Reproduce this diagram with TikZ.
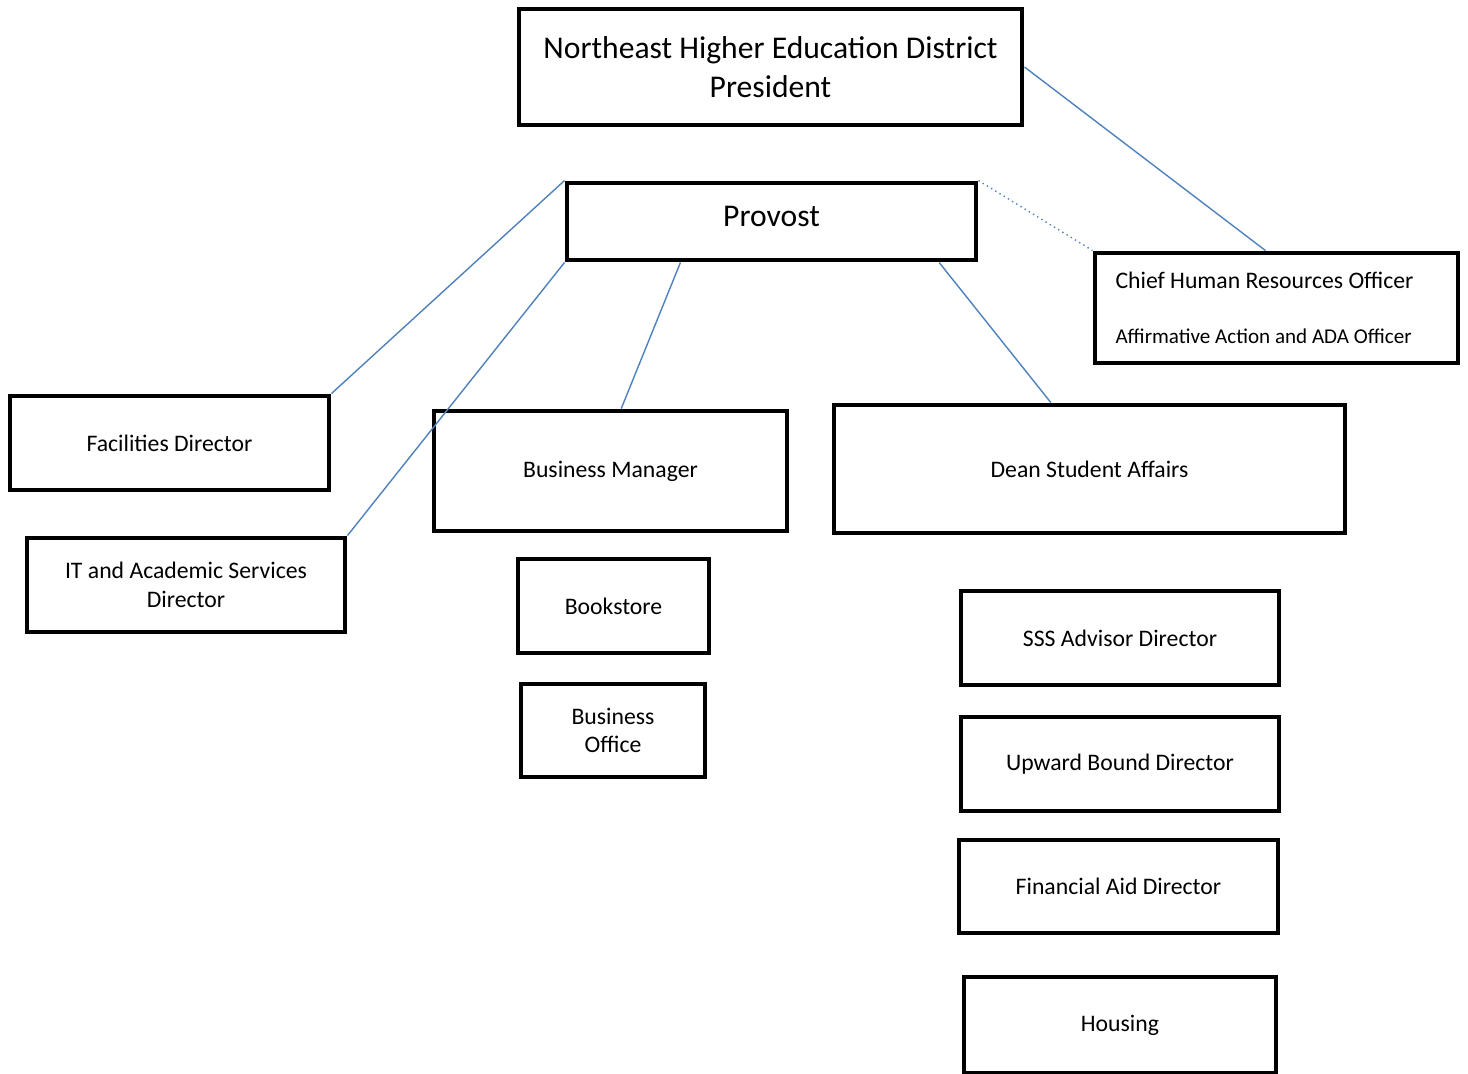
\documentclass[tikz,border=0pt]{standalone}
\usepackage{fontspec}
\setmainfont{Carlito}
\usetikzlibrary{calc}
\definecolor{linkblue}{RGB}{79,129,189}

\begin{document}
\begin{tikzpicture}[x=0.02cm, y=-0.02cm]
  \tikzstyle{box}=[rectangle, draw, line width=2.8pt, inner sep=0pt, align=center, font=\fontsize{13.5}{16.4}\selectfont]
  \tikzset{wh/.style 2 args={minimum width=#1*0.02cm, minimum height=#2*0.02cm}}
  \tikzstyle{link}=[draw=linkblue, line width=0.8pt]

  \useasboundingbox (0,0) rectangle (1468,1073);
  \clip (0,0) rectangle (1468,1073);

  \node[box, wh={503}{116}, font=\fontsize{18}{22}\selectfont] (pres) at (770.5, 67) {Northeast Higher Education District\\President};
  \node[box, wh={409}{77}, font=\fontsize{18}{22}\selectfont] (prov) at (771.5, 221.5) {\raisebox{0.19cm}{Provost}};
  \node[box, wh={363}{110}, align=left] (hr) at (1276.5, 308) {Chief Human Resources Officer\kern0.48cm\mbox{}\\[0.52cm]{\fontsize{12}{14}\selectfont Affirmative Action and ADA Officer}};

  \node[box, wh={319}{94}] (fac) at (169.5, 443) {Facilities Director};
  \node[box, wh={318}{94}] (it) at (186, 585) {IT and Academic Services\\Director};
  \node[box, wh={353}{120}] (bm) at (610.5, 471) {Business Manager};
  \node[box, wh={511}{128}] (dean) at (1089.5, 469) {Dean Student Affairs};

  \node[box, wh={191}{94}] (book) at (613.5, 606) {Bookstore};
  \node[box, wh={184}{93}] (bo) at (613, 730.5) {Business\\Office};

  \node[box, wh={318}{94}] (sss) at (1120, 638) {SSS Advisor Director};
  \node[box, wh={318}{94}] (ub) at (1120, 764) {Upward Bound Director};
  \node[box, wh={319}{93}] (fa) at (1118.5, 886.5) {Financial Aid Director};
  \node[box, wh={312}{96}] (house) at (1120, 1025) {Housing};

  % connectors
  \draw[link] (pres.east) -- ($(hr.north west)!0.47!(hr.north east)$);
  \draw[link] (prov.north west) -- (fac.north east);
  \draw[link] (prov.south west) -- (it.north east);
  \draw[link] ($(prov.south west)!0.28!(prov.south east)$) -- ($(bm.north west)!0.53!(bm.north east)$);
  \draw[link] ($(prov.south west)!0.905!(prov.south east)$) -- ($(dean.north west)!0.425!(dean.north east)$);
  \draw[link, dotted] (prov.north east) -- (hr.north west);
\end{tikzpicture}
\end{document}
